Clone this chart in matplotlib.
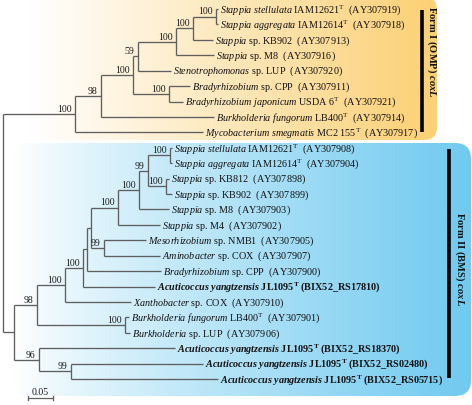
import matplotlib
matplotlib.use('Agg')
import matplotlib.pyplot as plt
import numpy as np
from matplotlib.patches import FancyBboxPatch

plt.rcParams['font.family'] = ['Liberation Serif', 'DejaVu Serif']
plt.rcParams['mathtext.fontset'] = 'custom'
plt.rcParams['mathtext.rm'] = 'Liberation Serif'
plt.rcParams['mathtext.it'] = 'Liberation Serif:italic'
plt.rcParams['mathtext.bf'] = 'Liberation Serif:bold'
plt.rcParams['mathtext.bfit'] = 'Liberation Serif:italic:bold'

# internal nodes of the tree (branch lengths in substitutions/site)
node_names = ["root", "A", "B", "C", "D", "E", "F", "G", "H",
              "L0", "L1", "L3", "L4", "L5", "L11", "L6", "L7", "L8", "L9", "L10", "M", "BK", "L2", "N"]
node_parents = [None, "root", "A", "B", "C", "D", "E", "F", "C",
                "root", "L0", "L1", "L3", "L4", "L5", "L11", "L6", "L7", "L8", "L8", "L11", "L1", "L0", "L2"]
node_lengths = [0, 0.144, 0.052, 0.064, 0.010, 0.076, 0.034, 0.046, 0.072,
                0.022, 0.046, 0.056, 0.036, 0.008, 0.008, 0.054, 0.042, 0.018, 0.044, 0.036, 0.026, 0.176, 0.050, 0.064]
node_support = ["", "100", "98", "100", "59", "100", "100", "100", "100",
                "", "98", "100", "100", "", "", "100", "100", "99", "100", "100", "99", "100", "96", "99"]

# leaves, top to bottom
leaf_labels = [
    r"$\mathit{Stappia\ stellulata}$ IAM12621$^{\mathrm{T}}$  (AY307919)",
    r"$\mathit{Stappia\ aggregata}$ IAM12614$^{\mathrm{T}}$  (AY307918)",
    r"$\mathit{Stappia}$ sp. KB902  (AY307913)",
    r"$\mathit{Stappia}$ sp. M8  (AY307916)",
    r"$\mathit{Stenotrophomonas}$ sp. LUP  (AY307920)",
    r"$\mathit{Bradyrhizobium}$ sp. CPP  (AY307911)",
    r"$\mathit{Bradyrhizobium\ japonicum}$ USDA 6$^{\mathrm{T}}$  (AY307921)",
    r"$\mathit{Burkholderia\ fungorum}$ LB400$^{\mathrm{T}}$  (AY307914)",
    r"$\mathit{Mycobacterium\ smegmatis}$ MC2 155$^{\mathrm{T}}$  (AY307917)",
    r"$\mathit{Stappia\ stellulata}$ IAM12621$^{\mathrm{T}}$  (AY307908)",
    r"$\mathit{Stappia\ aggregata}$ IAM12614$^{\mathrm{T}}$  (AY307904)",
    r"$\mathit{Stappia}$ sp. KB812  (AY307898)",
    r"$\mathit{Stappia}$ sp. KB902  (AY307899)",
    r"$\mathit{Stappia}$ sp. M8  (AY307903)",
    r"$\mathit{Stappia}$ sp. M4  (AY307902)",
    r"$\mathit{Mesorhizobium}$ sp. NMB1  (AY307905)",
    r"$\mathit{Aminobacter}$ sp. COX  (AY307907)",
    r"$\mathit{Bradyrhizobium}$ sp. CPP  (AY307900)",
    r"$\mathbfit{Acuticoccus\ yangtzensis}$ JL1095$^{\mathbf{T}}$ (BIX52_RS17810)",
    r"$\mathit{Xanthobacter}$ sp. COX  (AY307910)",
    r"$\mathit{Burkholderia\ fungorum}$ LB400$^{\mathrm{T}}$  (AY307901)",
    r"$\mathit{Burkholderia}$ sp. LUP  (AY307906)",
    r"$\mathbfit{Acuticoccus\ yangtzensis}$ JL1095$^{\mathbf{T}}$ (BIX52_RS18370)",
    r"$\mathbfit{Acuticoccus\ yangtzensis}$ JL1095$^{\mathbf{T}}$ (BIX52_RS02480)",
    r"$\mathbfit{Acuticoccus\ yangtzensis}$ JL1095$^{\mathbf{T}}$ (BIX52_RS05715)",
]
leaf_parents = ["G", "G", "F", "E", "D", "H", "H", "B", "A",
                "L9", "L9", "L10", "L10", "L7", "L6", "M", "M", "L5", "L4", "L3", "BK", "BK", "L2", "N", "N"]
leaf_lengths = [0.004, 0.004, 0.040, 0.076, 0.066, 0.042, 0.028, 0.226, 0.256,
                0.004, 0.004, 0.006, 0.012, 0.060, 0.084, 0.084, 0.112, 0.148, 0.144, 0.132, 0.008, 0.010, 0.272, 0.264, 0.294]

group_labels = [r"Form I (OMP) $\mathbfit{coxL}$", r"Form II (BMS) $\mathbfit{coxL}$"]
group_first_leaf = [0, 9]
group_last_leaf = [8, 24]
scale_bar_length = 0.05

line_color = '#5f5f5f'

# ---- layout of the tree ----
depth = {}
parent_of = dict(zip(node_names, node_parents))
length_of = dict(zip(node_names, node_lengths))


def get_depth(name):
    if name in depth:
        return depth[name]
    p = parent_of[name]
    d = 0.0 if p is None else get_depth(p) + length_of[name]
    depth[name] = d
    return d


for n in node_names:
    get_depth(n)

children = {n: [] for n in node_names}
ypos = {}
xpos = {}
for i, (p, bl) in enumerate(zip(leaf_parents, leaf_lengths)):
    key = ("leaf", i)
    ypos[key] = i
    xpos[key] = depth[p] + bl
    children[p].append(key)
for n, p in zip(node_names, node_parents):
    xpos[n] = depth[n]
    if p is not None:
        children[p].append(n)


def get_y(n):
    if n in ypos:
        return ypos[n]
    ys = [get_y(c) for c in children[n]]
    ypos[n] = (min(ys) + max(ys)) / 2
    return ypos[n]


get_y("root")

fig = plt.figure(figsize=(4.72, 4.05), dpi=100)

# background panels in pixel coordinates
bg = fig.add_axes([0, 0, 1, 1])
bg.set_xlim(0, 472)
bg.set_ylim(405, 0)
bg.axis('off')

W, H = 472, 405
xx = np.linspace(0, W, 472)
orange = np.array([252, 208, 116]) / 255
t = np.clip((xx - 30) / (437 - 30), 0, 1) ** 1.0
img = np.ones((2, len(xx), 3))
img[:, :, :] = (1 - t)[None, :, None] * 1 + t[None, :, None] * orange[None, None, :]
p1 = FancyBboxPatch((-30, -3), 467, 143, boxstyle="round,pad=0,rounding_size=13",
                    facecolor='none', edgecolor='none')
bg.add_patch(p1)
im1 = bg.imshow(img, extent=(0, W, 0, H), aspect='auto', interpolation='bilinear', zorder=0)
im1.set_clip_path(p1)

blue = np.array([112, 202, 240]) / 255
t2 = np.clip((xx - 15) / (471 - 15), 0, 1) ** 0.85
img2 = np.ones((2, len(xx), 3))
img2[:, :, :] = (1 - t2)[None, :, None] * 1 + t2[None, :, None] * blue[None, None, :]
p2 = FancyBboxPatch((12, 143), 459, 253, boxstyle="round,pad=0,rounding_size=16",
                    facecolor='none', edgecolor='none')
bg.add_patch(p2)
im2 = bg.imshow(img2, extent=(0, W, 0, H), aspect='auto', interpolation='bilinear', zorder=0)
im2.set_clip_path(p2)

# tree axes: x in substitutions/site, y in leaf index
ax = fig.add_axes([0, 0, 1, 1])
ax.patch.set_alpha(0)
ax.set_xlim(-3 / 500, 469 / 500)
ax.set_ylim((405 - 9) / 15.42, -9 / 15.42)
ax.axis('off')

for n in node_names:
    ch = children[n]
    ys = [ypos[c] for c in ch]
    ax.plot([xpos[n], xpos[n]], [min(ys), max(ys)], color=line_color, lw=0.95, solid_capstyle='butt')
    for c in ch:
        ax.plot([xpos[n], xpos[c]], [ypos[c], ypos[c]], color=line_color, lw=0.95, solid_capstyle='butt')

for n, s in zip(node_names, node_support):
    if s:
        ax.annotate(s, (xpos[n], ypos[n]), xytext=(-2.6, 1.6), textcoords='offset points',
                    ha='right', va='baseline', fontsize=7.0, color='#1a1a1a')

for i, lab in enumerate(leaf_labels):
    bold = 'Acuticoccus' in lab
    ax.annotate(lab, (xpos[("leaf", i)], i), xytext=(1.5, -2.5), textcoords='offset points',
                ha='left', va='baseline', fontsize=7.3, color='#111111',
                fontweight='bold' if bold else 'normal')

# group bars and labels
bar_x = [0.838, 0.892]
label_x = [0.858, 0.914]
label_sizes = [7.6, 7.6]
for k in range(2):
    y0 = group_first_leaf[k] + 0.05
    y1 = group_last_leaf[k] - 0.05
    ax.plot([bar_x[k], bar_x[k]], [y0, y1], color='black', lw=2.6, solid_capstyle='butt')
    ax.text(label_x[k], (y0 + y1) / 2 - (1.2 if k == 0 else 0.3), group_labels[k], rotation=-90,
            ha='center', va='center', fontsize=label_sizes[k], fontweight='bold', color='#111111')

# scale bar
sb_y = (398 - 9) / 15.42
sb_x0 = 0.05
ax.plot([sb_x0, sb_x0 + scale_bar_length], [sb_y, sb_y], color=line_color, lw=0.9)
for xv in (sb_x0, sb_x0 + scale_bar_length):
    ax.plot([xv, xv], [sb_y - 0.12, sb_y + 0.12], color=line_color, lw=0.9)
ax.annotate(f"{scale_bar_length:.2f}", (sb_x0 + scale_bar_length / 2, sb_y), xytext=(0, 2.5),
            textcoords='offset points', ha='center', va='baseline', fontsize=7.0, color='#1a1a1a')

fig.savefig('out.png', dpi=100)
